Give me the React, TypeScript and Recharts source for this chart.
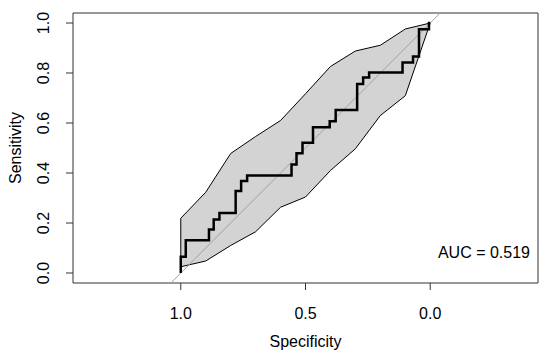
import { ComposedChart, XAxis, YAxis, Area, Line, ReferenceLine, ReferenceArea, Customized } from 'recharts';

const FONT = '"Liberation Sans", Arial, Helvetica, sans-serif';

// ROC staircase (specificity, sensitivity)
const rocSpec = [1, 1, 0.98, 0.98, 0.887, 0.887, 0.868, 0.868, 0.845, 0.845, 0.78, 0.78, 0.758, 0.758, 0.734, 0.734, 0.556, 0.556, 0.536, 0.536, 0.512, 0.512, 0.47, 0.47, 0.403, 0.403, 0.379, 0.379, 0.293, 0.293, 0.269, 0.269, 0.245, 0.245, 0.111, 0.111, 0.069, 0.069, 0.045, 0.045, 0.005, 0.005, 0];
const rocSens = [0, 0.065, 0.065, 0.131, 0.131, 0.174, 0.174, 0.214, 0.214, 0.24, 0.24, 0.328, 0.328, 0.368, 0.368, 0.39, 0.39, 0.434, 0.434, 0.479, 0.479, 0.521, 0.521, 0.583, 0.583, 0.607, 0.607, 0.652, 0.652, 0.756, 0.756, 0.782, 0.782, 0.802, 0.802, 0.842, 0.842, 0.866, 0.866, 0.975, 0.975, 1, 1];

// CI shape of sensitivity
const bandSpec = [1, 0.9, 0.8, 0.7, 0.6, 0.5, 0.4, 0.3, 0.2, 0.1, 0];
const bandLower = [0.025, 0.048, 0.11, 0.165, 0.263, 0.304, 0.41, 0.497, 0.63, 0.709, 1];
const bandUpper = [0.219, 0.323, 0.478, 0.546, 0.61, 0.717, 0.826, 0.888, 0.911, 0.976, 1];

const xTicks = [1, 0.5, 0];
const yTicks = [0, 0.2, 0.4, 0.6, 0.8, 1];
const xDomain = [-0.432, 1.432];
const yDomain = [-0.04, 1.04];
const auc = 0.519;

const rocData = rocSpec.map((s, i) => ({ x: s, sens: rocSens[i] }));
const bandData = bandSpec.map((s, i) => ({ x: s, range: [bandLower[i], bandUpper[i]] }));

const XTick = ({ x, y, payload }: any) => (
  <text x={x} y={y + 27} textAnchor="middle" fontSize={16} fontFamily={FONT} fill="#000">
    {payload.value.toFixed(1)}
  </text>
);

const YTick = ({ x, y, payload }: any) => (
  <text transform={`translate(${x - 15},${y}) rotate(-90)`} textAnchor="middle" fontSize={16} fontFamily={FONT} fill="#000">
    {payload.value.toFixed(1)}
  </text>
);

const Titles = () => (
  <g fontFamily={FONT} fontSize={16} fill="#000">
    <text x={305.5} y={347} textAnchor="middle">Specificity</text>
    <text transform="translate(21,148) rotate(-90)" textAnchor="middle">Sensitivity</text>
    <text x={530} y={258} textAnchor="end">AUC = {auc.toFixed(3)}</text>
  </g>
);

export default function App() {
  return (
    <div style={{ position: 'absolute', left: 0, top: 0 }}>
      <ComposedChart width={550} height={357} margin={{ top: 13, right: 12, bottom: 0, left: 0 }}>
        <XAxis
          type="number"
          dataKey="x"
          domain={xDomain}
          reversed
          ticks={xTicks}
          tick={<XTick />}
          tickSize={7}
          axisLine={false}
          tickLine={{ stroke: '#333' }}
          height={74}
          allowDataOverflow
        />
        <YAxis
          type="number"
          domain={yDomain}
          ticks={yTicks}
          tick={<YTick />}
          tickSize={7}
          axisLine={false}
          tickLine={{ stroke: '#333' }}
          width={73}
          allowDataOverflow
        />
        <Area
          data={bandData}
          dataKey="range"
          type="linear"
          fill="#d3d3d3"
          fillOpacity={1}
          stroke="#000"
          strokeWidth={1}
          isAnimationActive={false}
        />
        <ReferenceLine
          segment={[{ x: bandSpec[0], y: bandLower[0] }, { x: bandSpec[0], y: bandUpper[0] }]}
          stroke="#000"
          strokeWidth={1}
        />
        <ReferenceLine
          segment={[{ x: 1 - yDomain[0], y: yDomain[0] }, { x: 1 - yDomain[1], y: yDomain[1] }]}
          stroke="#a0a0a0"
          strokeWidth={1}
        />
        <Line
          data={rocData}
          dataKey="sens"
          type="linear"
          stroke="#000"
          strokeWidth={2.5}
          dot={false}
          isAnimationActive={false}
        />
        <ReferenceArea x1={xDomain[0]} x2={xDomain[1]} y1={yDomain[0]} y2={yDomain[1]} fill="none" stroke="#333" strokeWidth={1} />
        <Customized component={<Titles />} />
      </ComposedChart>
    </div>
  );
}
